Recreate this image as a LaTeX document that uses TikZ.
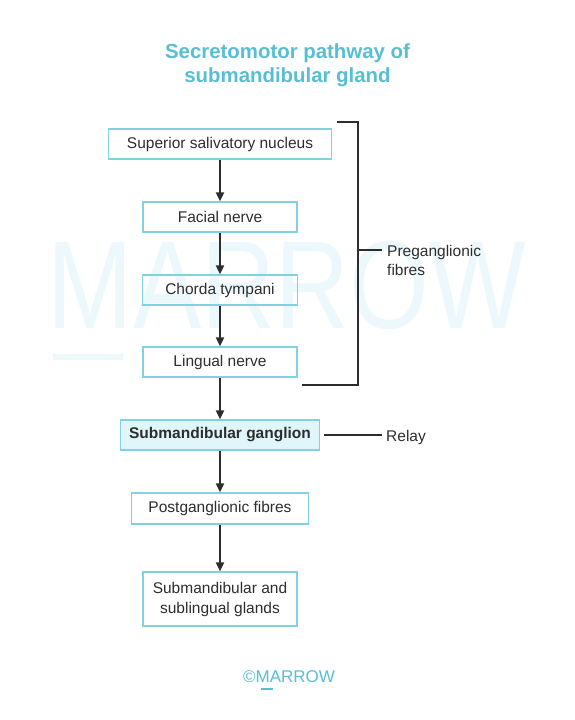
\documentclass[tikz,border=0pt]{standalone}
\usepackage{fontspec}
\setmainfont{Liberation Sans}
\usetikzlibrary{arrows.meta,calc}
\definecolor{marrowcyan}{RGB}{88,190,212}
\definecolor{boxline}{RGB}{128,210,226}
\definecolor{boxfill}{RGB}{224,246,250}
\definecolor{inkgray}{RGB}{45,45,45}
\definecolor{wmark}{RGB}{236,248,252}

\begin{document}
\begin{tikzpicture}[x=1pt, y=-1pt,
    pbox/.style={draw=boxline, line width=1.2pt, inner sep=0pt, minimum height=30pt,
        text=inkgray, font=\fontsize{15.5}{20}\selectfont},
    flow/.style={-{Triangle[length=9pt,width=8pt]}, line width=1.8pt, draw=inkgray},
    brace/.style={line width=1.8pt, draw=inkgray},
    side/.style={text=inkgray, font=\fontsize{15.5}{19}\selectfont, align=left, inner sep=0pt}]
    \useasboundingbox (0,0) rectangle (575,720);

    % Watermark
    \node[text=wmark, font=\fontsize{125}{125}\selectfont, xscale=0.82, inner sep=0pt] (wm) at (287,285) {MARROW};
    \draw[wmark, line width=6pt] (53,357) -- (123,357);

    % Title
    \node[text=marrowcyan, font=\bfseries\fontsize{20.4}{24}\selectfont, align=center] (title) at (287.5,65.5)
        {Secretomotor pathway of\\submandibular gland};

    % Pathway boxes
    \node[pbox, minimum width=223pt] (ssn) at (220,144) {Superior salivatory nucleus};
    \node[pbox, minimum width=154pt] (facial) at (220,217) {Facial nerve};
    \node[pbox, minimum width=155pt] (chorda) at (220,290) {Chorda tympani};
    \node[pbox, minimum width=154pt] (lingual) at (220,362) {Lingual nerve};
    \node[pbox, minimum width=199pt, fill=boxfill, font=\bfseries\fontsize{15.5}{20}\selectfont] (ganglion) at (220,435) {Submandibular ganglion};
    \node[pbox, minimum width=177pt, minimum height=31pt] (postgang) at (220,508.5) {Postganglionic fibres};
    \node[pbox, minimum width=154pt, minimum height=54pt, align=center] (glands) at (220,599) {Submandibular and\\sublingual glands};

    % Arrows
    \foreach \a/\b in {ssn/facial, facial/chorda, chorda/lingual, lingual/ganglion, ganglion/postgang, postgang/glands}
        \draw[flow] (\a) -- (\b);

    % Preganglionic bracket
    \coordinate (pretop) at (337,122);
    \coordinate (prebot) at (302,385);
    \coordinate (pretick) at (358,250);
    \draw[brace] (pretop) -- ++(21,0) |- (prebot);
    \node[side, anchor=north west] (pre) at (387,245) {Preganglionic\\fibres};
    \draw[brace, shorten >=5pt] (pretick) -- (pretick -| pre.west);

    % Relay
    \node[side, anchor=base west] (relay) at (386,441) {Relay};
    \draw[brace, shorten <=4pt, shorten >=4pt] (ganglion.east) -- (ganglion.east -| relay.west);

    % Logo
    \node[text=marrowcyan, font=\fontsize{17}{17}\selectfont, inner sep=0pt] (logo) at (289,677) {©MARROW};
    \draw[marrowcyan, line width=2pt] (261,689) -- (273,689);
\end{tikzpicture}
\end{document}
